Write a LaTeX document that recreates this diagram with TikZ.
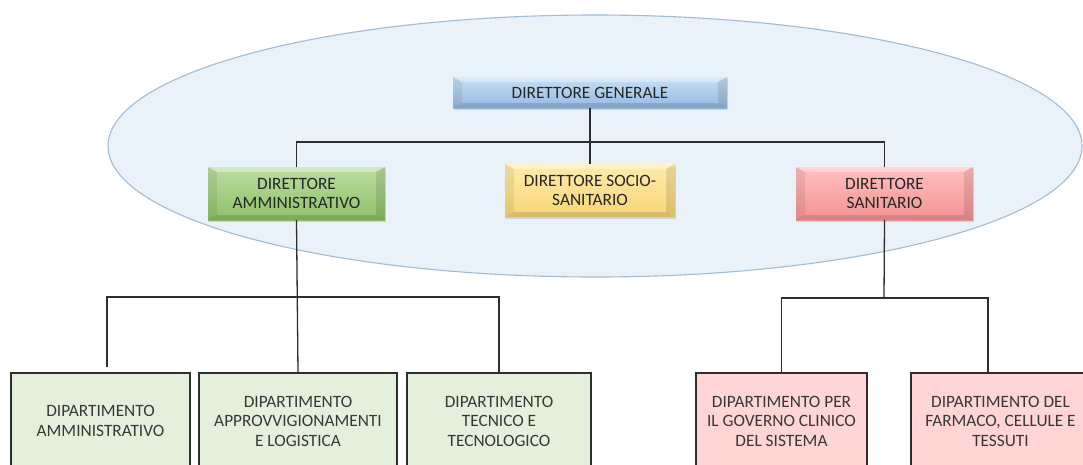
\documentclass[tikz,border=0pt]{standalone}
\usepackage{fontspec}
\setmainfont{Carlito}
\usetikzlibrary{shapes.geometric,shadows}
\definecolor{ellfill}{HTML}{E9F1F9}
\definecolor{elldraw}{HTML}{A3BCD6}
\definecolor{bluetop}{HTML}{C9DFF4}
\definecolor{bluebot}{HTML}{93B9E2}
\definecolor{greentop}{HTML}{BCDDA2}
\definecolor{greenbot}{HTML}{8FC068}
\definecolor{yeltop}{HTML}{FFEBAD}
\definecolor{yelbot}{HTML}{F7D676}
\definecolor{pinktop}{HTML}{FFC0C0}
\definecolor{pinkbot}{HTML}{F49292}
\definecolor{lgreen}{HTML}{E5F0DC}
\definecolor{lpink}{HTML}{FFD5D5}
\definecolor{txt}{HTML}{262626}
\definecolor{dtxt}{HTML}{383838}
\definecolor{linec}{HTML}{2E2E2E}
\begin{document}
\begin{tikzpicture}[x=1pt,y=-1pt,
  conn/.style={draw=linec,line width=1.3pt},
  bevel/.style={path picture={
    \fill[white,opacity=.35] (path picture bounding box.north west) -- (path picture bounding box.north east) -- ([shift={(-9pt,-5pt)}]path picture bounding box.north east) -- ([shift={(9pt,-5pt)}]path picture bounding box.north west) -- cycle;
    \fill[black,opacity=.07] (path picture bounding box.north west) -- ([shift={(9pt,-5pt)}]path picture bounding box.north west) -- ([shift={(9pt,5pt)}]path picture bounding box.south west) -- (path picture bounding box.south west) -- cycle;
    \fill[black,opacity=.10] (path picture bounding box.north east) -- ([shift={(-9pt,-5pt)}]path picture bounding box.north east) -- ([shift={(-9pt,5pt)}]path picture bounding box.south east) -- (path picture bounding box.south east) -- cycle;
    \fill[black,opacity=.12] (path picture bounding box.south west) -- ([shift={(9pt,5pt)}]path picture bounding box.south west) -- ([shift={(-9pt,5pt)}]path picture bounding box.south east) -- (path picture bounding box.south east) -- cycle;
  }},
  topbox/.style={rectangle,inner sep=0pt,align=center,text=txt,
    font=\fontsize{17.3}{19.5}\selectfont,bevel,
    drop shadow={opacity=0.25,shadow xshift=1pt,shadow yshift=-1.5pt}},
  deptbox/.style={rectangle,draw=linec,line width=1.3pt,inner sep=0pt,align=center,
    text=dtxt,font=\fontsize{17.3}{19.5}\selectfont,minimum height=96pt}
]
\useasboundingbox (0,0) rectangle (1083,464);
\fill[white] (0,0) rectangle (1083,464);
\node[ellipse,draw=elldraw,fill=ellfill,line width=1.1pt,minimum width=974pt,minimum height=262pt,inner sep=0pt] (ell) at (595,146) {};

\node[topbox,top color=bluetop,bottom color=bluebot,minimum width=274pt,minimum height=31pt] (dg) at (590,92.5) {DIRETTORE GENERALE};
\node[topbox,top color=greentop,bottom color=greenbot,minimum width=177pt,minimum height=53pt] (da) at (296.5,193.5) {DIRETTORE\\AMMINISTRATIVO};
\node[topbox,top color=yeltop,bottom color=yelbot,minimum width=170pt,minimum height=53pt] (ds) at (590,190.5) {DIRETTORE SOCIO-\\SANITARIO};
\node[topbox,top color=pinktop,bottom color=pinkbot,minimum width=177pt,minimum height=53pt] (dsan) at (884.5,193.5) {DIRETTORE\\SANITARIO};

\node[deptbox,fill=lgreen,minimum width=179pt] (p1) at (100.5,421) {DIPARTIMENTO\\AMMINISTRATIVO};
\node[deptbox,fill=lgreen,minimum width=198pt] (p2) at (298,421) {DIPARTIMENTO\\APPROVVIGIONAMENTI\\E LOGISTICA};
\node[deptbox,fill=lgreen,minimum width=184pt] (p3) at (499,421) {DIPARTIMENTO\\TECNICO E\\TECNOLOGICO};
\node[deptbox,fill=lpink,minimum width=171pt] (p4) at (781.5,421) {DIPARTIMENTO PER\\IL GOVERNO CLINICO\\DEL SISTEMA};
\node[deptbox,fill=lpink,minimum width=179pt] (p5) at (1000.5,421) {DIPARTIMENTO DEL\\FARMACO, CELLULE E\\TESSUTI};

% top connectors
\coordinate (b1) at (590,142);
\draw[conn] (dg.south) -- (b1);
\draw[conn] (da.north) |- (b1) -| (dsan.north);
\draw[conn] (b1) -- (ds.north);

% left department bus
\coordinate (b2) at (297,297);
\coordinate (k1) at (107,367);
\draw[conn] (da.south) -- (p2.north);
\draw[conn] (k1) |- (b2) -| (p3.north);

% right department bus
\coordinate (b3) at (884,298);
\coordinate (k5) at (988,372);
\draw[conn] (dsan.south) -- (b3);
\draw[conn] (p4.north) |- (b3) -| (k5);
\end{tikzpicture}
\end{document}
